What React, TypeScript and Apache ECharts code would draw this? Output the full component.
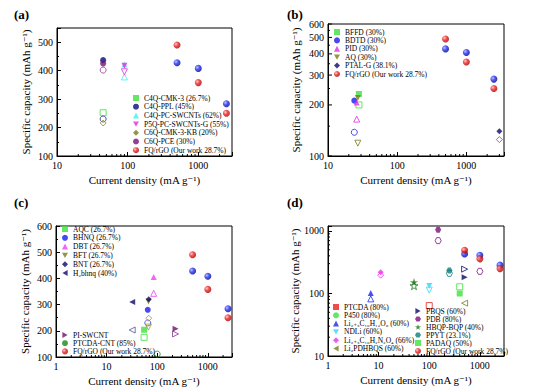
import React, { useEffect, useRef } from "react";
import * as echarts from "echarts";

type Pt = [number, number];

const FONT = '"Liberation Serif", "Times New Roman", "DejaVu Serif", serif';

// custom symbols
const TRI_DOWN = "path://M0,0L10,0L5,8.66Z";
const TRI_LEFT = "path://M8.66,0L8.66,10L0,5Z";
const TRI_RIGHT = "path://M0,0L8.66,5L0,10Z";
const STAR = "path://M5,0L6.18,3.62L10,3.62L6.91,5.86L8.09,9.5L5,7.26L1.91,9.5L3.09,5.86L0,3.62L3.82,3.62Z";
const HEX = "path://M2.5,0L7.5,0L10,4.33L7.5,8.66L2.5,8.66L0,4.33Z";

// ---------- shared: our work ----------
const ourName = "FQ/rGO (Our work 28.7%)";
const ourRed: Pt[] = [[500, 490], [1000, 358], [2500, 250]];
const ourBlue: Pt[] = [[500, 428], [1000, 408], [2500, 284]];

// ---------- panel (a) ----------
const aNames = ["C4Q-CMK-3 (26.7%)", "C4Q-PPL (45%)", "C4Q-PC-SWCNTs (62%)", "P5Q-PC-SWCNTs-G (55%)", "C6Q-CMK-3-KB (20%)", "C6Q-PCE (30%)"];
const aFilled: Pt[][] = [[], [[45, 437]], [[90, 422]], [[90, 417]], [], [[45, 425]]];
const aOpen: Pt[][] = [[[45, 252]], [[45, 230]], [[90, 378]], [[90, 396]], [[45, 216]], [[45, 402]]];
const aSymbols = ["rect", "circle", "triangle", TRI_DOWN, "diamond", "circle"];
const aColors = ["#3ee03e", "#0a0a7a", "#40f0f0", "#e030e0", "#7a7a1a", "#7a107a"];
const aOpenColors = ["#3ee03e", "#2a2a8a", "#40e8f0", "#e030e0", "#8a8a2a", "#9a309a"];

// ---------- panel (b) ----------
const bNames = ["BFFD (30%)", "BDTD (30%)", "PID (30%)", "AQ (30%)", "PTAL-G (38.1%)"];
const bFilled: Pt[][] = [[[28, 232]], [[24, 212]], [[26, 207]], [[27, 220]], [[3000, 140]]];
const bOpen: Pt[][] = [[[28, 200]], [[24, 138]], [[26, 165]], [[27, 119]], [[3000, 125]]];
const bSymbols = ["rect", "circle", "triangle", TRI_DOWN, "diamond"];
const bColors = ["#3ee03e", "#1a1ae8", "#e030e0", "#7a7a1a", "#0a0a6a"];
const bOpenColors = ["#3ee03e", "#1a1ae8", "#e030e0", "#7a7a1a", "#9040a0"];
const bYTicks = [100, 200, 300, 400, 500, 600];

// ---------- panel (c) ----------
const cNames1 = ["AQC (26.7%)", "BHNQ (26.7%)", "DBT (26.7%)", "BFT (26.7%)", "BNT (26.7%)", "H₂bhnq (40%)"];
const cNames2 = ["PI-SWCNT", "PTCDA-CNT (85%)"];
const cFilled: Pt[][] = [[[55, 204]], [[65, 280]], [[85, 405]], [[67, 312]], [[68, 320]], [[32, 310]], [[230, 208]], []];
const cOpen: Pt[][] = [[[55, 175]], [[65, 230]], [[85, 343]], [[67, 214]], [[68, 248]], [[32, 203]], [[230, 188]], [[100, 111]]];
const cSymbols = ["rect", "circle", "triangle", TRI_DOWN, "diamond", TRI_LEFT, TRI_RIGHT, "circle"];
const cColors = ["#3ee03e", "#1a1ae8", "#f040f0", "#7a7a1a", "#0a0a6a", "#0a0a6a", "#6a106a", "#1a8a1a"];
const cOpenColors = ["#3ee03e", "#3a3ae8", "#f040f0", "#9a9a30", "#a89030", "#5050a0", "#8a309a", "#1a8a1a"];

// ---------- panel (d) ----------
const dNames1 = ["PTCDA (80%)", "P450 (80%)", "Li₂₊ₓC₁₀H₁₂O₆ (60%)", "NDLi (60%)", "Li₂₊ₓC₁₀H₂N₂O₄ (66%)", "Li₂PDHBQS (60%)"];
const dNames2 = ["PBQS (60%)", "PDB (80%)", "HBQP-BQP (40%)", "PPYT (23.1%)", "PADAQ (50%)"];
const dFilled: Pt[][] = [[], [], [[7, 102]], [[100, 132]], [[11, 218]], [], [[500, 182]], [[150, 1050]], [[50, 152]], [[250, 232]], [[400, 100]]];
const dOpen: Pt[][] = [[[100, 64]], [], [[7, 82]], [[100, 113]], [[11, 196]], [[500, 70]], [[500, 245]], [[150, 700], [1000, 226]], [[50, 133]], [[250, 210]], [[400, 128]]];
const dSymbols = ["rect", "circle", "triangle", TRI_DOWN, "diamond", TRI_LEFT, TRI_RIGHT, HEX, STAR, HEX, "rect"];
const dColors = ["#e82020", "#3ee03e", "#1a2ae8", "#30d8f8", "#f030f0", "#7a7a1a", "#0a0a6a", "#7a107a", "#1a7a1a", "#107a7a", "#3ee03e"];

// minor ticks on log axes
const minorAB = [20, 30, 40, 50, 60, 70, 80, 90, 200, 300, 400, 500, 600, 700, 800, 900, 2000];
const minorCD = [2, 3, 4, 5, 6, 7, 8, 9, 20, 30, 40, 50, 60, 70, 80, 90, 200, 300, 400, 500, 600, 700, 800, 900, 2000];
const minorDY = [20, 30, 40, 50, 60, 70, 80, 90, 200, 300, 400, 500, 600, 700, 800, 900];
const minorBY = [150, 250, 350, 450, 550];

const sphereRed = {
  type: "radial", x: 0.35, y: 0.35, r: 0.7,
  colorStops: [{ offset: 0, color: "#ffc0c0" }, { offset: 0.45, color: "#f02020" }, { offset: 1, color: "#a00000" }],
};
const sphereBlue = {
  type: "radial", x: 0.35, y: 0.35, r: 0.7,
  colorStops: [{ offset: 0, color: "#b0b0ff" }, { offset: 0.45, color: "#2030f0" }, { offset: 1, color: "#000090" }],
};

function scatterSeries(grid: number, name: string, symbol: string, color: any, openColor: string, filled: Pt[], open: Pt[], size = 6) {
  return {
    type: "scatter", name, xAxisIndex: grid, yAxisIndex: grid, symbol, symbolSize: size, silent: true, z: 3,
    itemStyle: { color },
    data: [
      ...open.map((p) => ({ value: p, itemStyle: { color: "rgba(255,255,255,0)", borderColor: openColor, borderWidth: 1 } })),
      ...filled.map((p) => ({ value: p })),
    ],
  };
}

function ourSeries(grid: number) {
  return [
    { type: "scatter", name: "FQ/rGO-b", xAxisIndex: grid, yAxisIndex: grid, symbol: "circle", symbolSize: 7, silent: true, z: 4, itemStyle: { color: sphereBlue }, data: ourBlue },
    { type: "scatter", name: ourName, xAxisIndex: grid, yAxisIndex: grid, symbol: "circle", symbolSize: 7, silent: true, z: 4, itemStyle: { color: sphereRed }, data: ourRed },
  ];
}

function tickSeries(grid: number, dir: "x" | "y", vals: number[], anchor: number, len: number, label = false) {
  return {
    type: "custom", xAxisIndex: grid, yAxisIndex: grid, silent: true, clip: false, z: 6,
    data: vals.map((v) => (dir === "x" ? [v, anchor] : [anchor, v])),
    renderItem: (params: any, api: any) => {
      const p = api.coord([api.value(0), api.value(1)]);
      const children: any[] = [];
      if (dir === "x") {
        children.push({ type: "line", shape: { x1: p[0], y1: p[1], x2: p[0], y2: p[1] - len }, style: { stroke: "#000", lineWidth: 1 } });
      } else {
        children.push({ type: "line", shape: { x1: p[0], y1: p[1], x2: p[0] + len, y2: p[1] }, style: { stroke: "#000", lineWidth: 1 } });
        if (label) {
          children.push({ type: "text", x: p[0] - 4, y: p[1], style: { text: String(api.value(1)), align: "right", verticalAlign: "middle", font: `10px ${FONT}`, fill: "#000" } });
        }
      }
      return { type: "group", children };
    },
  };
}

const logFmt = (v: number) => {
  const l = Math.log10(v);
  return Math.abs(l - Math.round(l)) < 1e-6 ? String(Math.round(v)) : "";
};
const linFmt = (v: number) => (Math.abs(v % 100) < 1e-6 ? String(v) : "");

function axisBase(extra: any) {
  return {
    axisLine: { show: true, lineStyle: { color: "#000", width: 1 } },
    axisTick: { show: true, inside: true, length: 4, lineStyle: { color: "#000", width: 1 } },
    splitLine: { show: false },
    nameLocation: "middle",
    nameTextStyle: { color: "#000", fontFamily: FONT, fontSize: 11, fontWeight: "normal" },
    ...extra,
    axisLabel: { color: "#000", fontFamily: FONT, fontSize: 10, margin: 4, ...(extra.axisLabel || {}) },
  };
}

const xName = "Current density (mA g⁻¹)";
const yName = "Specific capacity (mAh g⁻¹)";

function legend(left: number, top: number, data: string[], gap: number) {
  return {
    orient: "vertical", left, top, padding: 0, itemWidth: 6, itemHeight: 6, itemGap: gap, selectedMode: false,
    textStyle: { fontFamily: FONT, fontSize: 7.5, lineHeight: 8, color: "#000" },
    data,
  };
}

function buildOption() {
  const series: any[] = [];
  aNames.forEach((n, i) => series.push(scatterSeries(0, n, aSymbols[i], aColors[i], aOpenColors[i], aFilled[i], aOpen[i])));
  series.push(...ourSeries(0));
  bNames.forEach((n, i) => series.push(scatterSeries(1, n, bSymbols[i], bColors[i], bOpenColors[i], bFilled[i], bOpen[i])));
  series.push(...ourSeries(1));
  [...cNames1, ...cNames2].forEach((n, i) => series.push(scatterSeries(2, n, cSymbols[i], cColors[i], cOpenColors[i], cFilled[i], cOpen[i])));
  series.push(...ourSeries(2));
  [...dNames1, ...dNames2].forEach((n, i) => series.push(scatterSeries(3, n, dSymbols[i], dColors[i], dColors[i], dFilled[i], dOpen[i], i === 8 ? 8 : 6)));
  series.push(...ourSeries(3));

  series.push(tickSeries(0, "x", minorAB, 100, 2));
  series.push(tickSeries(1, "x", [...minorAB, 3000], 100, 2));
  series.push(tickSeries(1, "y", bYTicks, 10, 4, true));
  series.push(tickSeries(1, "y", minorBY, 10, 2));
  series.push(tickSeries(2, "x", minorCD, 100, 2));
  series.push(tickSeries(3, "x", minorCD, 10, 2));
  series.push(tickSeries(3, "y", minorDY, 1, 2));

  const gridBase = { show: true, borderColor: "#000", borderWidth: 1, backgroundColor: "transparent" };

  return {
    animation: false,
    textStyle: { fontFamily: FONT },
    grid: [
      { ...gridBase, left: 57, top: 28, width: 175, height: 128 },
      { ...gridBase, left: 328, top: 24, width: 176, height: 132 },
      { ...gridBase, left: 56, top: 226, width: 176, height: 131 },
      { ...gridBase, left: 328, top: 226, width: 176, height: 130 },
    ],
    xAxis: [
      axisBase({ gridIndex: 0, type: "log", logBase: 10, min: 10, max: 3000, name: xName, nameGap: 18, axisLabel: { formatter: logFmt } }),
      axisBase({ gridIndex: 1, type: "log", logBase: 10, min: 10, max: 3500, name: xName, nameGap: 18, axisLabel: { formatter: logFmt } }),
      axisBase({ gridIndex: 2, type: "log", logBase: 10, min: 1, max: 3000, name: xName, nameGap: 18, axisLabel: { formatter: logFmt } }),
      axisBase({ gridIndex: 3, type: "log", logBase: 10, min: 1, max: 3000, name: xName, nameGap: 18, axisLabel: { formatter: logFmt } }),
    ],
    yAxis: [
      axisBase({ gridIndex: 0, type: "value", min: 100, max: 550, interval: 100, name: yName, nameGap: 26, minorTick: { show: true, splitNumber: 2, length: 2 }, axisLabel: { formatter: linFmt } }),
      axisBase({ gridIndex: 1, type: "log", logBase: 10, min: 100, max: 600, name: yName, nameGap: 27, axisTick: { show: false }, axisLabel: { show: false } }),
      axisBase({ gridIndex: 2, type: "value", min: 100, max: 600, interval: 100, name: yName, nameGap: 26, minorTick: { show: true, splitNumber: 2, length: 2 }, axisLabel: { formatter: linFmt } }),
      axisBase({ gridIndex: 3, type: "log", logBase: 10, min: 10, max: 1200, name: yName, nameGap: 28, axisLabel: { formatter: logFmt } }),
    ],
    legend: [
      legend(133, 94, [...aNames, ourName], 0.7),
      legend(334, 28, [...bNames, ourName], 0.4),
      legend(62, 225, cNames1, 0.8),
      legend(62, 331, [...cNames2, ourName], 0.2),
      legend(333, 303, dNames1, 0.3),
      legend(415, 307, [...dNames2, ourName], 0),
    ],
    graphic: [
      { type: "text", left: 14, top: 8, style: { text: "(a)", font: `bold 13px ${FONT}`, fill: "#000" } },
      { type: "text", left: 287, top: 8, style: { text: "(b)", font: `bold 13px ${FONT}`, fill: "#000" } },
      { type: "text", left: 14, top: 196, style: { text: "(c)", font: `bold 13px ${FONT}`, fill: "#000" } },
      { type: "text", left: 287, top: 196, style: { text: "(d)", font: `bold 13px ${FONT}`, fill: "#000" } },
    ],
    series,
  };
}

export default function App() {
  const ref = useRef<HTMLDivElement>(null);
  useEffect(() => {
    document.body.style.margin = "0";
    const chart = echarts.init(ref.current!, null, { renderer: "svg" });
    chart.setOption(buildOption() as any);
    return () => chart.dispose();
  }, []);
  return <div ref={ref} style={{ width: 544, height: 388 }} />;
}
